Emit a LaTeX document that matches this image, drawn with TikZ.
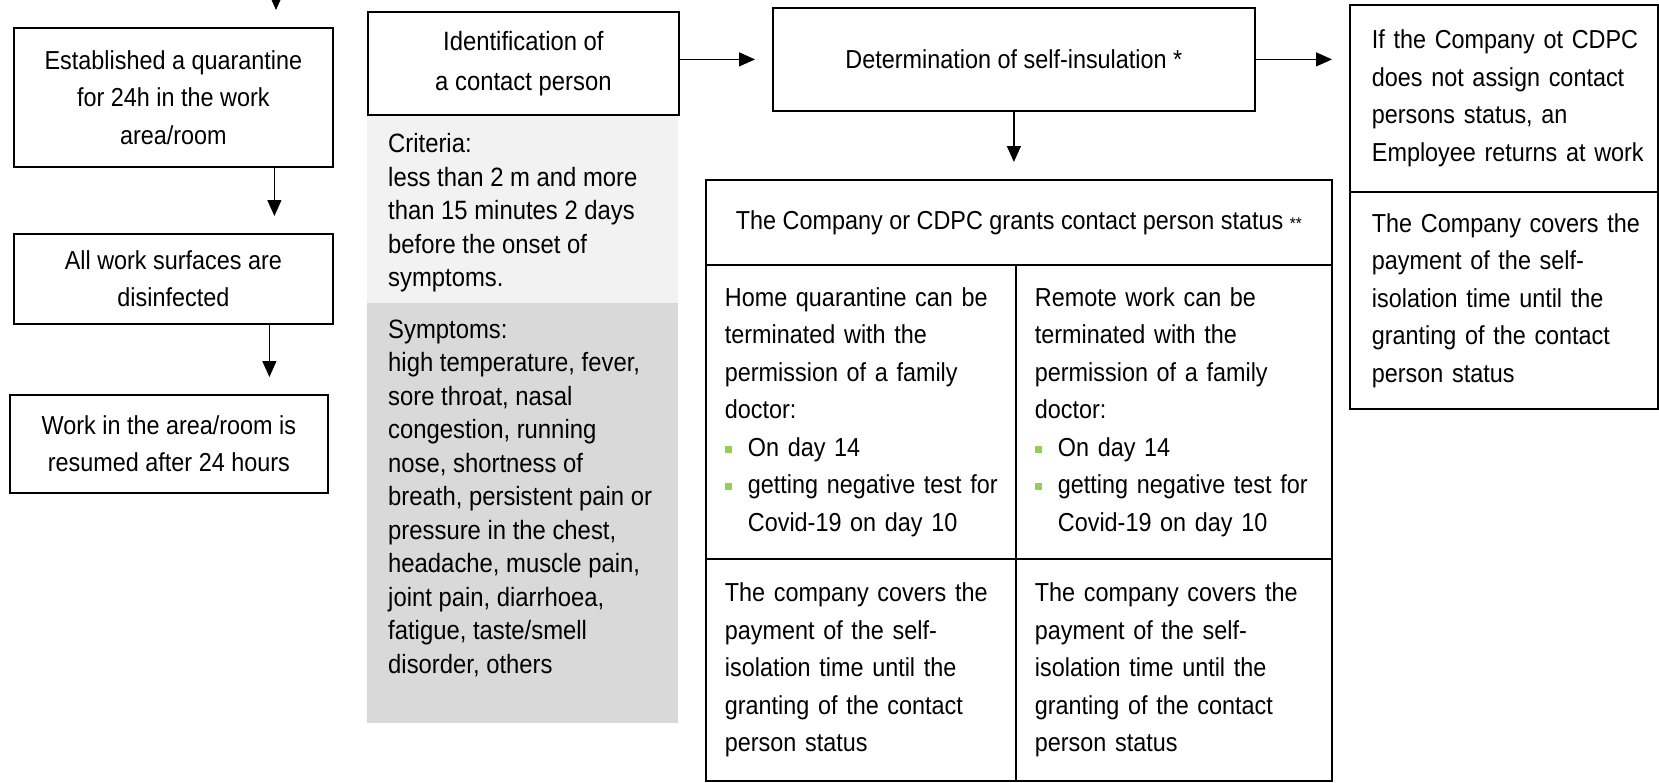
\documentclass[tikz,border=0pt]{standalone}
\usepackage{fontspec}
\setmainfont{Liberation Sans}[FakeStretch=0.9]
\usetikzlibrary{arrows.meta,positioning}
\definecolor{critgray}{HTML}{F2F2F2}
\definecolor{sympgray}{HTML}{D9D9D9}
\definecolor{bulletgreen}{HTML}{92D050}
\newcommand{\boxfont}{\fontsize{26}{37.5}\selectfont}
\newcommand{\shadefont}{\fontsize{26.5}{33.5}\selectfont}
\newcommand{\bul}{\makebox[23pt][l]{\textcolor{bulletgreen}{\rule[3.5pt]{7pt}{7pt}}}}

\begin{document}
\begin{tikzpicture}[x=1pt,y=-1pt,
	box/.style={draw,line width=1.8pt,anchor=north west,inner sep=0pt,align=center,font=\boxfont},
	cell/.style={box,align=left,execute at begin node={\leftskip=19pt}},
	shade/.style={anchor=north west,inner xsep=21pt,inner ysep=0pt,font=\shadefont},
	arr/.style={-{Triangle[length=16pt,width=14pt]},line width=1.3pt,shorten >=17pt}]
	\useasboundingbox (0,0) rectangle (1659,782);
	\node[box,minimum width=319pt,minimum height=139pt] (quar) at (13,27) {Established a quarantine\\for 24h in the work\\area/room};
	\node[box,minimum width=319pt,minimum height=90pt] (disinf) at (13,233) {All work surfaces are\\disinfected};
	\node[box,minimum width=318pt,minimum height=98pt] (resume) at (9,394) {Work in the area/room is\\resumed after 24 hours};
	\coordinate (entry) at (276,-10);
	\node[shade,fill=critgray] (crit) at (367,114) {\parbox[t][189pt][t]{269pt}{\raggedright\vspace*{19.5pt}Criteria:\\less than 2 m and more\\than 15 minutes 2 days\\before the onset of\\symptoms.}};
	\node[shade,fill=sympgray] (symp) at (367,303) {\parbox[t][420pt][t]{269pt}{\raggedright\vspace*{16.5pt}Symptoms:\\high temperature, fever,\\sore throat, nasal\\congestion, running\\nose, shortness of\\breath, persistent pain or\\pressure in the chest,\\headache, muscle pain,\\joint pain, diarrhoea,\\fatigue, taste/smell\\disorder, others}};
	\node[box,minimum width=311pt,minimum height=103pt,font=\fontsize{26.5}{40}\selectfont] (ident) at (367,11) {Identification of\\a contact person};
	\node[box,minimum width=482pt,minimum height=103pt] (det) at (772,7) {Determination of self-insulation *};
	\node[box,minimum width=626pt,minimum height=85pt] (grant) at (705,179) {The Company or CDPC grants contact person status {\fontsize{17}{17}\selectfont**}};
	\node[cell,text width=310pt,minimum height=294pt] (home) at (705,264) {Home quarantine can be\\terminated with the\\permission of a family\\doctor:\\\bul On day 14\\\bul getting negative test for\\\hspace*{23pt}Covid-19 on day 10};
	\node[cell,text width=316pt,minimum height=294pt] (remote) at (1015,264) {Remote work can be\\terminated with the\\permission of a family\\doctor:\\\bul On day 14\\\bul getting negative test for\\\hspace*{23pt}Covid-19 on day 10};
	\node[cell,text width=310pt,minimum height=222pt] (payhome) at (705,558) {The company covers the\\payment of the self-\\isolation time until the\\granting of the contact\\person status};
	\node[cell,text width=316pt,minimum height=222pt] (payremote) at (1015,558) {The company covers the\\payment of the self-\\isolation time until the\\granting of the contact\\person status};
	\node[cell,text width=308pt,minimum height=187pt,execute at begin node={\leftskip=22pt}] (noassign) at (1349,4) {If the Company ot CDPC\\does not assign contact\\persons status, an\\Employee returns at work};
	\node[cell,text width=308pt,minimum height=217pt,execute at begin node={\leftskip=22pt}] (paystatus) at (1349,191) {The Company covers the\\payment of the self-\\isolation time until the\\granting of the contact\\person status};
	\path[arr]
	(entry) edge (entry |- quar.north)
	([xshift=101pt]quar.south) edge ([xshift=101pt]quar.south |- disinf.north)
	([xshift=96pt]disinf.south) edge ([xshift=96pt]disinf.south |- resume.north)
	(ident.east |- det.west) edge (det.west)
	(det.east) edge (det.east -| noassign.west)
	(det.south) edge (det.south |- grant.north);
\end{tikzpicture}
\end{document}
